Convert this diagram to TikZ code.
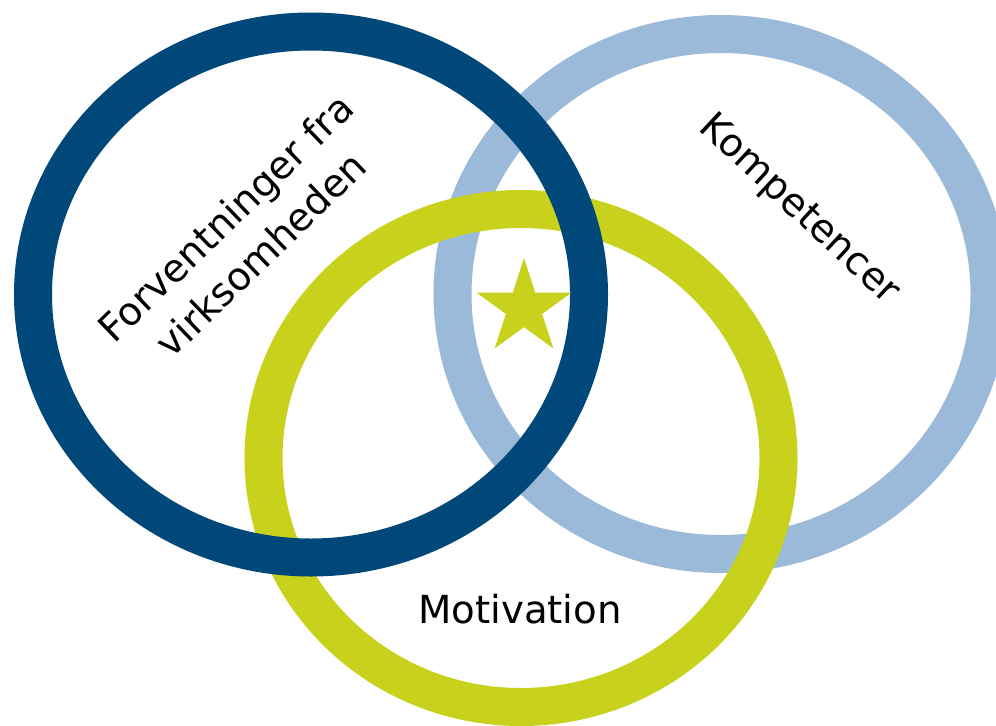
\documentclass[tikz,border=0pt]{standalone}
\usepackage{fontspec}
\setmainfont{DejaVu Sans}
\definecolor{darkring}{RGB}{0,71,122}
\definecolor{lightring}{RGB}{155,185,216}
\definecolor{limering}{RGB}{200,210,28}
\tikzset{
  ring/.style={line width=28.5pt},
  label/.style={font=\fontsize{29}{38}\selectfont, text=black, inner sep=0pt, align=center}
}
\begin{document}
\begin{tikzpicture}[x=0.75pt,y=-0.75pt]
\useasboundingbox (0,0) rectangle (996,725);
\fill[white] (0,0) rectangle (996,725);
% rings: light blue below, then lime, then dark blue on top
\draw[ring, lightring] (721,294) ellipse [x radius=201.375pt, y radius=195pt];
\draw[ring, limering] (521,458) ellipse [x radius=193.125pt, y radius=186.75pt];
\draw[ring, darkring] (311,294.5) ellipse [x radius=208.5pt, y radius=197.25pt];
% star
\fill[limering] (524,258) -- (512.77,292.55) -- (476.45,292.55) -- (505.84,313.9)
  -- (494.61,348.45) -- (524,327.1) -- (553.39,348.45) -- (542.16,313.9)
  -- (571.55,292.55) -- (535.23,292.55) -- cycle;
% labels
\node[label, rotate=44] (forv) at (243,236) {Forventninger fra\\virksomheden};
\node[label, rotate=-43] (komp) at (799,210) {Kompetencer};
\node[label] (motiv) at (520,609) {Motivation};
\end{tikzpicture}
\end{document}
